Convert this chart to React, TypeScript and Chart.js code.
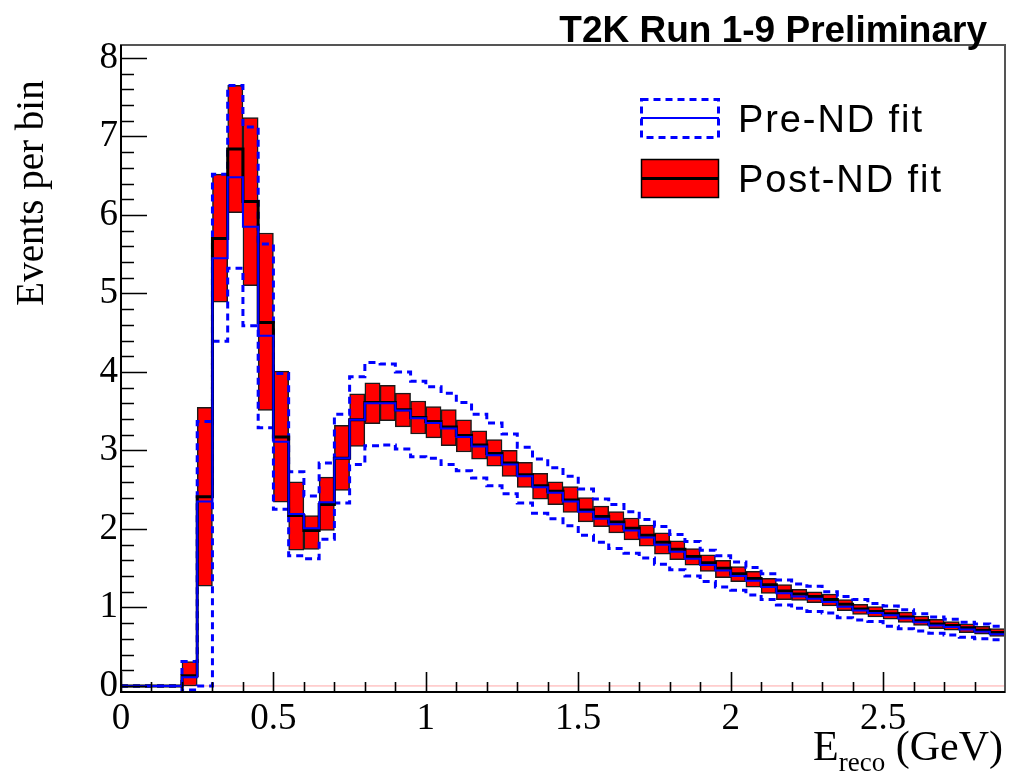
import React, { useEffect, useRef } from "react";
import { Chart, registerables } from "chart.js";

Chart.register(...registerables);

// ---------------- data ----------------
const X_MAX = 2.9;
const Y_MIN = -0.077;
const Y_MAX = 8.165;

// lower edges of the 0.05 GeV bins
const binLowEdges = [
  0.0, 0.05, 0.1, 0.15, 0.2, 0.25, 0.3, 0.35, 0.4, 0.45,
  0.5, 0.55, 0.6, 0.65, 0.7, 0.75, 0.8, 0.85, 0.9, 0.95,
  1.0, 1.05, 1.1, 1.15, 1.2, 1.25, 1.3, 1.35, 1.4, 1.45,
  1.5, 1.55, 1.6, 1.65, 1.7, 1.75, 1.8, 1.85, 1.9, 1.95,
  2.0, 2.05, 2.1, 2.15, 2.2, 2.25, 2.3, 2.35, 2.4, 2.45,
  2.5, 2.55, 2.6, 2.65, 2.7, 2.75, 2.8, 2.85,
];

// Post-ND fit: central value and error band
const postCentral = [
  0, 0, 0, 0, 0.13, 2.41, 5.7, 6.84, 6.17, 4.63,
  3.17, 2.17, 1.98, 2.31, 2.9, 3.39, 3.61, 3.61, 3.52, 3.42,
  3.37, 3.3, 3.19, 3.07, 2.96, 2.84, 2.69, 2.55, 2.48, 2.37,
  2.24, 2.16, 2.09, 2.01, 1.92, 1.83, 1.74, 1.65, 1.57, 1.5,
  1.43, 1.37, 1.29, 1.21, 1.17, 1.14, 1.1, 1.04, 0.98, 0.95,
  0.92, 0.88, 0.83, 0.79, 0.77, 0.74, 0.71, 0.68,
];
const postHigh = [
  null, null, null, null, 0.31, 3.55, 6.52, 7.65, 7.24, 5.77,
  4.01, 2.6, 2.17, 2.66, 3.32, 3.72, 3.86, 3.83, 3.73, 3.63,
  3.56, 3.52, 3.39, 3.25, 3.14, 3.0, 2.85, 2.71, 2.6, 2.54,
  2.4, 2.29, 2.22, 2.14, 2.05, 1.95, 1.85, 1.75, 1.67, 1.6,
  1.52, 1.46, 1.37, 1.29, 1.23, 1.2, 1.17, 1.1, 1.04, 1.01,
  0.98, 0.94, 0.89, 0.85, 0.82, 0.79, 0.76, 0.73,
];
const postLow = [
  null, null, null, null, 0.0, 1.27, 4.89, 6.03, 5.1, 3.51,
  2.34, 1.73, 1.74, 1.98, 2.49, 3.05, 3.34, 3.38, 3.3, 3.21,
  3.16, 3.06, 2.98, 2.89, 2.8, 2.67, 2.53, 2.38, 2.31, 2.21,
  2.09, 2.03, 1.95, 1.86, 1.78, 1.68, 1.61, 1.54, 1.46, 1.38,
  1.33, 1.26, 1.18, 1.1, 1.09, 1.06, 1.02, 0.96, 0.91, 0.88,
  0.85, 0.81, 0.77, 0.73, 0.71, 0.68, 0.66, 0.63,
];

// Pre-ND fit: central value and error band
const preCentral = [
  0, 0, 0, 0, 0.11, 2.35, 5.45, 6.48, 5.85, 4.46,
  3.11, 2.19, 2.01, 2.34, 2.9, 3.39, 3.6, 3.6, 3.51, 3.41,
  3.35, 3.28, 3.17, 3.05, 2.94, 2.82, 2.67, 2.53, 2.46, 2.35,
  2.22, 2.13, 2.06, 1.98, 1.89, 1.8, 1.71, 1.62, 1.54, 1.47,
  1.4, 1.34, 1.26, 1.18, 1.14, 1.11, 1.07, 1.01, 0.96, 0.93,
  0.9, 0.86, 0.81, 0.77, 0.75, 0.72, 0.69, 0.66,
];
const preHigh = [
  0, 0, 0, 0, 0.31, 3.37, 6.52, 7.65, 7.12, 5.63,
  3.98, 2.73, 2.42, 2.84, 3.46, 3.94, 4.12, 4.1, 4.0, 3.88,
  3.81, 3.73, 3.61, 3.46, 3.35, 3.21, 3.04, 2.89, 2.78, 2.67,
  2.51, 2.38, 2.31, 2.22, 2.12, 2.03, 1.93, 1.84, 1.73, 1.66,
  1.58, 1.51, 1.43, 1.35, 1.3, 1.27, 1.2, 1.14, 1.1, 1.05,
  1.02, 0.97, 0.92, 0.88, 0.85, 0.81, 0.79, 0.76,
];
const preLow = [
  0, 0, 0, 0, -0.05, 0.0, 4.39, 5.32, 4.59, 3.29,
  2.25, 1.66, 1.62, 1.87, 2.33, 2.82, 3.06, 3.07, 3.02, 2.92,
  2.9, 2.82, 2.74, 2.65, 2.55, 2.45, 2.33, 2.2, 2.13, 2.04,
  1.92, 1.83, 1.75, 1.69, 1.63, 1.55, 1.48, 1.4, 1.33, 1.26,
  1.22, 1.16, 1.1, 1.03, 0.99, 0.95, 0.93, 0.87, 0.84, 0.82,
  0.76, 0.73, 0.7, 0.67, 0.65, 0.62, 0.6, 0.59,
];

const xTickValues = [0, 0.5, 1, 1.5, 2, 2.5];
const xTickLabels = ["0", "0.5", "1", "1.5", "2", "2.5"];
const yTickValues = [0, 1, 2, 3, 4, 5, 6, 7, 8];
const yTickLabels = ["0", "1", "2", "3", "4", "5", "6", "7", "8"];

// ---------------- helpers ----------------
function stepPoints(vals: number[]) {
  const pts = binLowEdges.map((x, i) => ({ x, y: vals[i] }));
  pts.push({ x: X_MAX, y: vals[vals.length - 1] });
  return pts;
}

function bandBars(lo: (number | null)[], hi: (number | null)[]) {
  const out: { x: number; y: [number, number] }[] = [];
  for (let i = 0; i < binLowEdges.length; i++) {
    if (lo[i] === null || hi[i] === null) continue;
    const next = i + 1 < binLowEdges.length ? binLowEdges[i + 1] : X_MAX;
    out.push({ x: (binLowEdges[i] + next) / 2, y: [lo[i] as number, hi[i] as number] });
  }
  return out;
}

const SERIF = "'Liberation Serif', 'Times New Roman', serif";
const SANS = "'Liberation Sans', Arial, sans-serif";

const rootFramePlugin = {
  id: "rootFrame",
  afterDatasetsDraw(chart: any) {
    const { ctx, chartArea: a, scales } = chart;
    const xs = scales.x;
    const ys = scales.y;
    ctx.save();
    ctx.strokeStyle = "#000";
    ctx.lineWidth = 1.6;
    ctx.beginPath();
    // y ticks (major every 1, minor every 0.2), drawn inward
    for (let k = 0; k <= 40; k++) {
      const v = k * 0.2;
      const y = Math.round(ys.getPixelForValue(v)) + 0.5;
      const len = k % 5 === 0 ? 26 : 13;
      ctx.moveTo(a.left, y);
      ctx.lineTo(a.left + len, y);
    }
    // x ticks (major every 0.5, minor every 0.1), drawn inward
    for (let k = 0; k <= 28; k++) {
      const v = k * 0.1;
      const x = Math.round(xs.getPixelForValue(v)) + 0.5;
      const len = k % 5 === 0 ? 20 : 10;
      ctx.moveTo(x, a.bottom);
      ctx.lineTo(x, a.bottom - len);
    }
    ctx.stroke();
    // frame
    ctx.strokeStyle = "#555";
    ctx.lineWidth = 2;
    ctx.strokeRect(a.left, a.top, a.right - a.left, a.bottom - a.top);
    ctx.strokeStyle = "#000";
    ctx.beginPath();
    ctx.moveTo(a.left, a.top);
    ctx.lineTo(a.left, a.bottom);
    ctx.lineTo(a.right, a.bottom);
    ctx.stroke();
    ctx.restore();
  },
};

export default function App() {
  const canvasRef = useRef<HTMLCanvasElement | null>(null);

  useEffect(() => {
    if (!canvasRef.current) return;
    const chart = new Chart(canvasRef.current, {
      type: "line",
      data: {
        datasets: [
          {
            type: "line",
            label: "Pre-ND central",
            data: stepPoints(preCentral),
            borderColor: "#0000ff",
            borderWidth: 2,
            stepped: true,
            pointRadius: 0,
            fill: false,
            order: 1,
          } as any,
          {
            type: "line",
            label: "Post-ND central",
            data: stepPoints(postCentral),
            borderColor: "#000000",
            borderWidth: 3,
            stepped: true,
            pointRadius: 0,
            fill: false,
            order: 2,
          } as any,
          {
            type: "line",
            label: "Pre-ND upper",
            data: stepPoints(preHigh),
            borderColor: "#0000ff",
            borderWidth: 3,
            borderDash: [7, 5],
            stepped: true,
            pointRadius: 0,
            fill: false,
            order: 3,
          } as any,
          {
            type: "line",
            label: "Pre-ND lower",
            data: stepPoints(preLow),
            borderColor: "#0000ff",
            borderWidth: 3,
            borderDash: [7, 5],
            stepped: true,
            pointRadius: 0,
            fill: false,
            order: 4,
          } as any,
          {
            type: "bar",
            label: "Post-ND band",
            data: bandBars(postLow, postHigh),
            backgroundColor: "#ff0000",
            borderColor: "#1a1a1a",
            borderWidth: 1.5,
            borderSkipped: false,
            barPercentage: 1,
            categoryPercentage: 1,
            grouped: false,
            order: 5,
          } as any,
          {
            type: "line",
            label: "zero",
            data: [
              { x: 0, y: 0 },
              { x: X_MAX, y: 0 },
            ],
            borderColor: "rgba(255,60,60,0.45)",
            borderWidth: 1,
            pointRadius: 0,
            fill: false,
            order: 6,
          } as any,
        ],
      },
      options: {
        responsive: false,
        animation: false,
        events: [],
        layout: { padding: { left: 0, right: 4, top: 45, bottom: 0 } },
        plugins: {
          legend: { display: false },
          tooltip: { enabled: false },
          title: { display: false },
        },
        scales: {
          x: {
            type: "linear",
            min: 0,
            max: X_MAX,
            offset: false,
            grid: { display: false, drawTicks: false, tickLength: 0 },
            border: { display: false },
            ticks: {
              color: "#000",
              font: { family: SERIF, size: 37 },
              padding: 5,
              autoSkip: false,
              maxRotation: 0,
              minRotation: 0,
              callback: (_v: any, i: number) => xTickLabels[i],
            },
            afterBuildTicks: (s: any) => {
              s.ticks = xTickValues.map((v) => ({ value: v }));
            },
            afterFit: (s: any) => {
              s.height = 81;
            },
          },
          y: {
            type: "linear",
            min: Y_MIN,
            max: Y_MAX,
            grid: { display: false, drawTicks: false, tickLength: 0 },
            border: { display: false },
            ticks: {
              color: "#000",
              font: { family: SERIF, size: 37 },
              padding: 3,
              callback: (_v: any, i: number) => yTickLabels[i],
            },
            afterBuildTicks: (s: any) => {
              s.ticks = yTickValues.map((v) => ({ value: v }));
            },
            afterFit: (s: any) => {
              s.width = 121;
            },
          },
        },
      } as any,
      plugins: [rootFramePlugin],
    });
    return () => chart.destroy();
  }, []);

  return (
    <div
      style={{
        position: "absolute",
        left: 0,
        top: 0,
        width: 1009,
        height: 773,
        background: "#fff",
        overflow: "hidden",
      }}
    >
      <canvas
        ref={canvasRef}
        width={1009}
        height={773}
        style={{ position: "absolute", left: 0, top: 0, width: 1009, height: 773 }}
      />
      <svg
        width={1009}
        height={773}
        style={{ position: "absolute", left: 0, top: 0, pointerEvents: "none" }}
      >
        <text
          x={987}
          y={42}
          textAnchor="end"
          fontFamily={SANS}
          fontWeight="bold"
          fontSize={37}
          fill="#000"
        >
          T2K Run 1-9 Preliminary
        </text>
        <text
          transform="translate(43,193) rotate(-90)"
          textAnchor="middle"
          fontFamily={SERIF}
          fontSize={39}
          fill="#000"
        >
          Events per bin
        </text>
        <text
          x={1003}
          y={760}
          textAnchor="end"
          fontFamily={SERIF}
          fontSize={42}
          fill="#000"
        >
          E
          <tspan fontSize={27} dy={11}>
            reco
          </tspan>
          <tspan dy={-11}> (GeV)</tspan>
        </text>
        {/* legend */}
        <rect
          x={641.5}
          y={99.5}
          width={77}
          height={38}
          fill="none"
          stroke="#0000ff"
          strokeWidth={3}
          strokeDasharray="7 5"
        />
        <line x1={641} y1={118} x2={719} y2={118} stroke="#0000ff" strokeWidth={2} />
        <rect x={641.5} y={159.5} width={77} height={38} fill="#ff0000" stroke="#000" strokeWidth={1.5} />
        <line x1={641} y1={178.5} x2={719} y2={178.5} stroke="#000" strokeWidth={3} />
        <text
          x={738}
          y={132}
          fontFamily={SANS}
          fontSize={38}
          textLength={184}
          lengthAdjust="spacing"
          fill="#000"
        >
          Pre-ND fit
        </text>
        <text
          x={738}
          y={192}
          fontFamily={SANS}
          fontSize={38}
          textLength={203}
          lengthAdjust="spacing"
          fill="#000"
        >
          Post-ND fit
        </text>
      </svg>
    </div>
  );
}
